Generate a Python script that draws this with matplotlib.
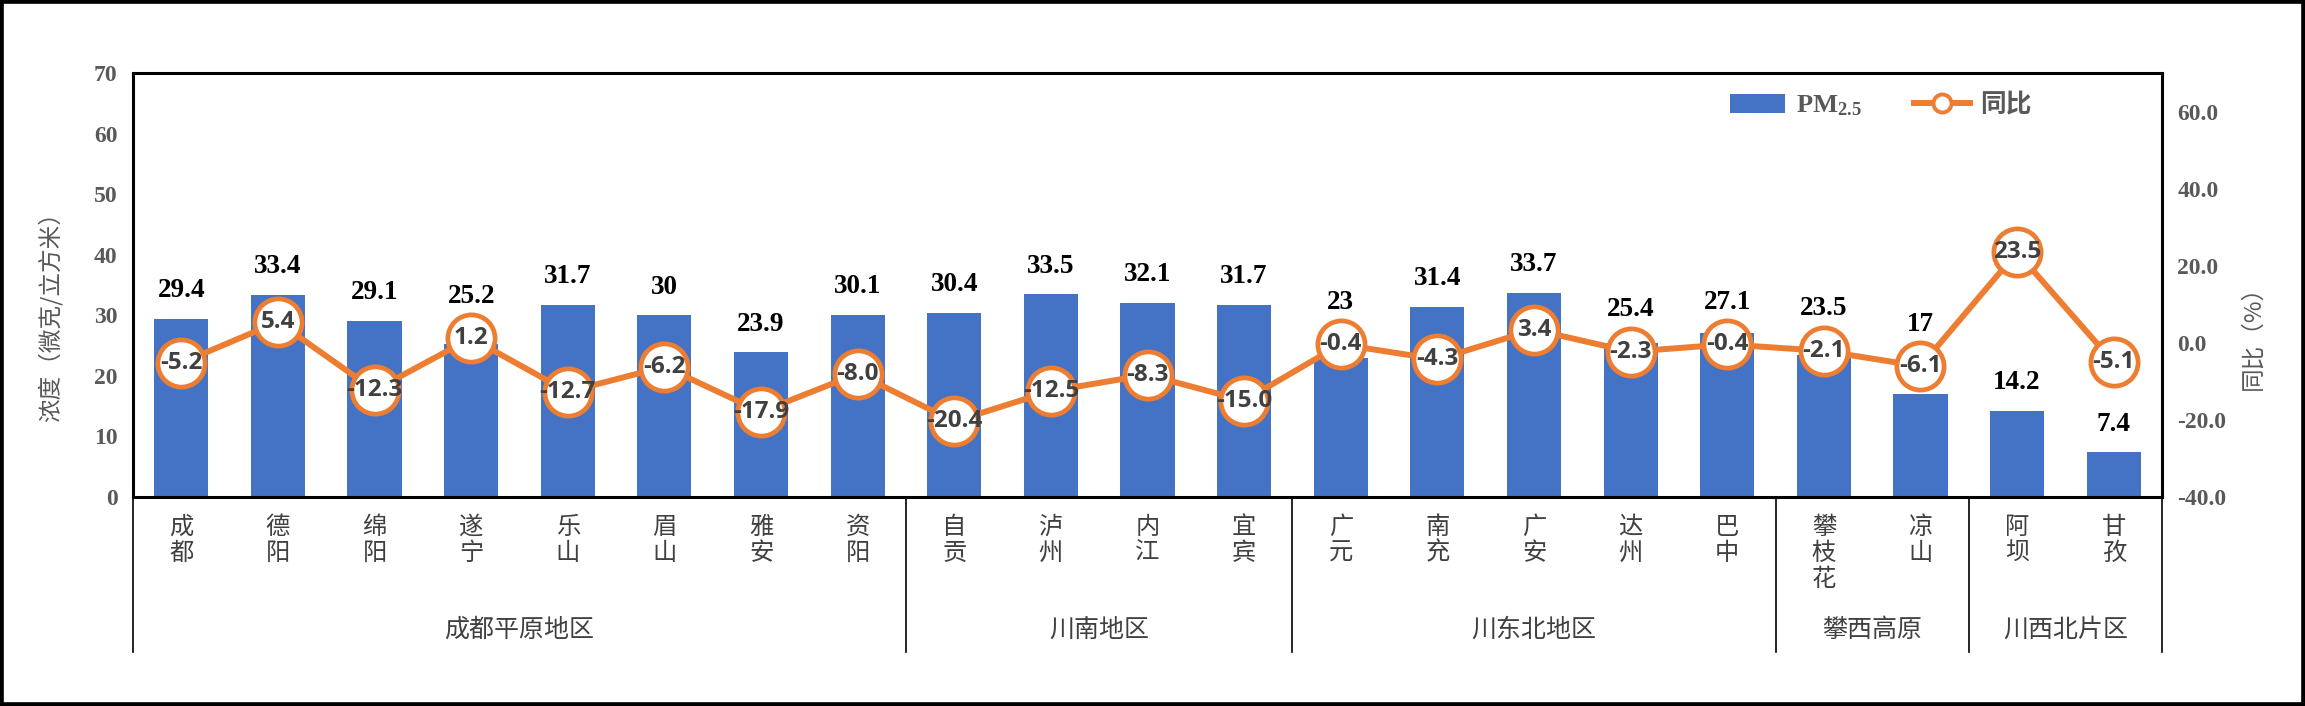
import matplotlib
matplotlib.use('Agg')
import matplotlib.pyplot as plt
import matplotlib.transforms as mtransforms
from matplotlib.lines import Line2D
from matplotlib.patches import Patch, Rectangle
from matplotlib.font_manager import FontProperties, fontManager

# ---------------- data ----------------
cities = ['成都', '德阳', '绵阳', '遂宁', '乐山', '眉山', '雅安', '资阳',
          '自贡', '泸州', '内江', '宜宾',
          '广元', '南充', '广安', '达州', '巴中',
          '攀枝花', '凉山',
          '阿坝', '甘孜']
pm25 = [29.4, 33.4, 29.1, 25.2, 31.7, 30, 23.9, 30.1,
        30.4, 33.5, 32.1, 31.7,
        23, 31.4, 33.7, 25.4, 27.1,
        23.5, 17,
        14.2, 7.4]
yoy = [-5.2, 5.4, -12.3, 1.2, -12.7, -6.2, -17.9, -8.0,
       -20.4, -12.5, -8.3, -15.0,
       -0.4, -4.3, 3.4, -2.3, -0.4,
       -2.1, -6.1,
       23.5, -5.1]
group_names = ['成都平原地区', '川南地区', '川东北地区', '攀西高原', '川西北片区']
group_sizes = [8, 4, 5, 2, 2]
left_ticks = [0, 10, 20, 30, 40, 50, 60, 70]
right_ticks = [-40, -20, 0, 20, 40, 60]

# ---------------- style ----------------
BLUE = '#4472C4'
ORANGE = '#ED7D31'
GRAY = '#595959'
DARK = '#404040'
W, H = 2305, 706
DPI = 100

# pick a bold sans family that really has a bold face (for circle labels)
def _weight(w):
    if isinstance(w, int):
        return w
    return {'bold': 700, 'semibold': 600, 'demibold': 600, 'heavy': 800,
            'black': 900, 'extra bold': 800}.get(str(w).lower(), 400)

bold_fams = {f.name for f in fontManager.ttflist if _weight(f.weight) >= 650}
SANS_BOLD = 'DejaVu Sans'
for cand in ['Open Sans', 'Roboto', 'Noto Sans', 'Liberation Sans', 'Lato']:
    if cand in bold_fams:
        SANS_BOLD = cand
        break

plt.rcParams['mathtext.fontset'] = 'custom'
plt.rcParams['mathtext.rm'] = 'Liberation Serif:bold'
plt.rcParams['mathtext.bf'] = 'Liberation Serif:bold'
plt.rcParams['mathtext.default'] = 'bf'

fig = plt.figure(figsize=(W / DPI, H / DPI), dpi=DPI)
ax = fig.add_axes([133 / W, 1 - 497 / H, (2162 - 133) / W, (497 - 73) / H])
ax2 = ax.twinx()

x = list(range(len(cities)))
ax.bar(x, pm25, width=0.56, color=BLUE, zorder=2)
ax.set_xlim(-0.5, len(cities) - 0.5)
ax.set_ylim(0, 70)
ax2.set_ylim(-40, 70)

ax2.plot(x, yoy, color=ORANGE, lw=4.3, marker='o', ms=34, mfc='white',
         mec=ORANGE, mew=3.4, zorder=3, solid_capstyle='round')

# spines
for s in ax.spines.values():
    s.set_linewidth(2.2)
    s.set_color('black')
for s in ax2.spines.values():
    s.set_visible(False)

serif_bold = dict(fontfamily='Liberation Serif', fontweight='bold')
ax.set_yticks(left_ticks)
ax.set_yticklabels([str(t) for t in left_ticks], fontsize=17, color=GRAY, **serif_bold)
ax.tick_params(axis='y', length=0, pad=11)
ax2.set_yticks(right_ticks)
ax2.set_yticklabels(['{:.1f}'.format(t) for t in right_ticks], fontsize=17, color=GRAY, **serif_bold)
ax2.tick_params(axis='y', length=0, pad=11)

ax.set_xticks(x)
ax.set_xticklabels(['\n'.join(c) for c in cities], fontfamily='Noto Sans CJK SC',
                   fontsize=17.5, color=DARK, linespacing=1.0)
ax.tick_params(axis='x', length=0, pad=12)

# value labels
for i, (v, r) in enumerate(zip(pm25, yoy)):
    bar_top = ax.transData.transform((i, v))[1]
    circ = ax2.transData.transform((i, r))[1]
    lab = bar_top + 28
    if abs(circ - lab) < 45:
        lab = max(lab, circ + 42)
    ydata = ax.transData.inverted().transform((0, lab))[1]
    ax.text(i, ydata, '{:g}'.format(v), ha='center', va='center', fontsize=19.5,
            color='black', zorder=4, **serif_bold)
    ax2.text(i, r, '{:.1f}'.format(r), ha='center', va='center', fontsize=17.5,
             fontfamily=[SANS_BOLD, 'DejaVu Sans'], fontweight='bold',
             color=DARK, zorder=5)

# group labels and separators
trans = mtransforms.blended_transform_factory(ax.transData, ax.transAxes)
sep_bottom = (497 - 652) / (497 - 73)
grp_y = (497 - 630) / (497 - 73)
start = 0
bounds = [-0.5]
for name, n in zip(group_names, group_sizes):
    center = start + (n - 1) / 2
    ax.text(center, grp_y, name, transform=trans, ha='center', va='center',
            fontfamily='Noto Sans CJK SC', fontsize=18, color=DARK)
    start += n
    bounds.append(start - 0.5)
for b in bounds:
    ax.plot([b, b], [0, sep_bottom], transform=trans, color='black', lw=1.2,
            clip_on=False, zorder=1)

# axis titles
fig.text(50 / W, 1 - 311 / H, '浓度（微克/立方米）', rotation=90, ha='center', va='center',
         fontfamily='Noto Sans CJK SC', fontsize=17, color=GRAY)
fig.text(2253 / W, 1 - 332 / H, '同比（%）', rotation=90, ha='center', va='center',
         fontfamily='Noto Sans CJK SC', fontsize=17, color=GRAY)

# legend
handles = [Patch(facecolor=BLUE, edgecolor='none'),
           Line2D([], [], color=ORANGE, lw=4.3, marker='o', ms=13, mfc='white',
                  mec=ORANGE, mew=2.8)]
leg = ax2.legend(handles, ['PM$_{2.5}$', '同比'], loc='center left',
                 bbox_to_anchor=(1730 / W, 1 - 105 / H), bbox_transform=fig.transFigure,
                 ncol=2, frameon=False, borderpad=0, borderaxespad=0,
                 handlelength=2.1, handleheight=0.7, handletextpad=0.4,
                 columnspacing=2.0,
                 prop=FontProperties(family='Liberation Serif', weight='bold', size=19))
leg.get_texts()[1].set_fontproperties(FontProperties(family='Noto Sans CJK SC', weight='bold', size=18.5))
for t in leg.get_texts():
    t.set_color(GRAY)

# outer border
fig.patches.append(Rectangle((0, 0), 1, 1, transform=fig.transFigure, fill=False,
                             edgecolor='black', lw=5.5, zorder=10))

fig.savefig('out.png', dpi=DPI)
